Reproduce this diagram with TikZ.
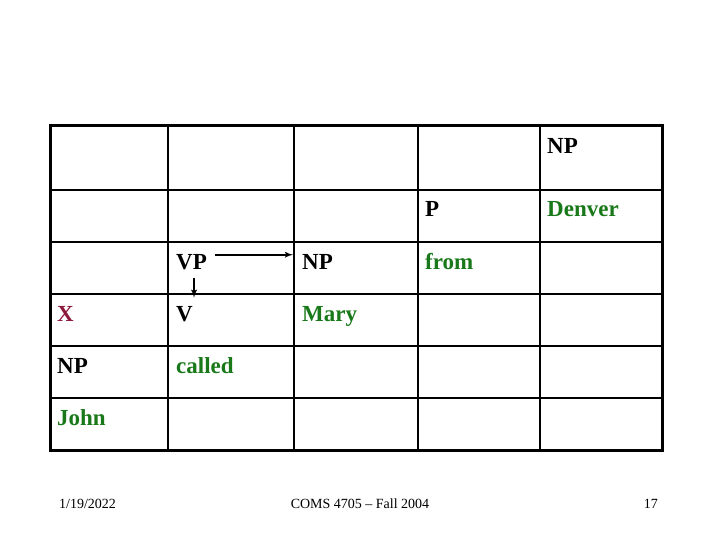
\documentclass[tikz,border=0pt]{standalone}
\usepackage{fontspec}
\setmainfont{Liberation Serif}
\usepackage{tikz}
\usetikzlibrary{arrows,calc,positioning}
\definecolor{wordgreen}{RGB}{25,120,25}
\definecolor{xred}{RGB}{140,25,60}

\begin{document}
\begin{tikzpicture}[x=1pt,y=-1pt]
				\tikzstyle{cat}=[anchor=base west,inner sep=0pt,font=\fontsize{23}{26}\selectfont\bfseries]
				\tikzstyle{word}=[cat,wordgreen]
				\tikzstyle{foot}=[inner sep=0pt,font=\fontsize{14}{16}\selectfont]
				\tikzstyle{grid}=[draw,line width=2pt]
				\tikzstyle{l}=[draw,-latex',line width=1.8pt]

				\useasboundingbox (0,0) rectangle (720,540);

				%% Draw chart grid
				\draw [grid] (50,190) -- (662,190);
				\draw [grid] (50,242) -- (662,242);
				\draw [grid] (50,294) -- (662,294);
				\draw [grid] (50,346) -- (662,346);
				\draw [grid] (50,398) -- (662,398);
				\draw [grid] (168,126) -- (168,450);
				\draw [grid] (294,126) -- (294,450);
				\draw [grid] (418,126) -- (418,450);
				\draw [grid] (540,126) -- (540,450);
				\draw [line width=3pt] (50,126) rectangle (662,450);

				%% Chart entries
				\node [cat] (np1) at (547,154) {NP};
				\node [cat] (p) at (425,216) {P};
				\node [word] (denver) at (547,216) {Denver};
				\node [cat] (vp) at (176,269) {VP};
				\node [cat] (np2) at (302,269) {NP};
				\node [word] (from) at (425,269) {from};
				\node [cat,xred] (x) at (57,321) {X};
				\node [cat] (v) at (176,321) {V};
				\node [word] (mary) at (302,321) {Mary};
				\node [cat] (np3) at (57,373) {NP};
				\node [word] (called) at (176,373) {called};
				\node [word] (john) at (57,425) {John};

				\draw [l,shorten <=8pt,shorten >=9pt] ([yshift=-1pt]vp.north east) -- ([yshift=-1pt]vp.north east -| np2.west);
				\draw [l,shorten >=8pt] ([xshift=2.5pt,yshift=-8pt]vp.south) -- ([xshift=2.5pt]vp.south |- v.north);

				%% Footer
				\node [foot,anchor=base west] (date) at (59,508) {1/19/2022};
				\node [foot,anchor=base] (course) at (360,508) {COMS 4705 -- Fall 2004};
				\node [foot,anchor=base east] (page) at (658,508) {17};
\end{tikzpicture}
\end{document}
